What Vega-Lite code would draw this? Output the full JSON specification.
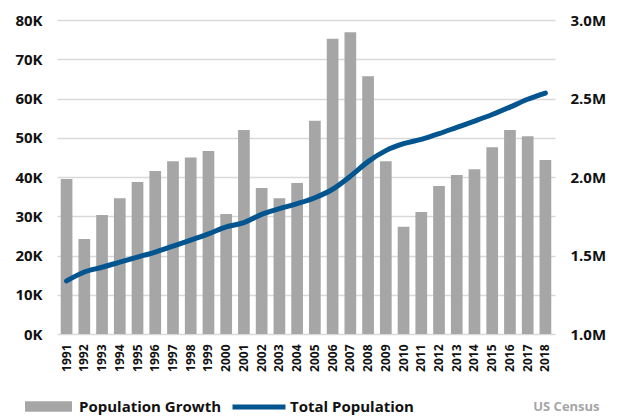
{
  "$schema": "https://vega.github.io/schema/vega-lite/v6.json",
  "width": 498,
  "height": 314,
  "autosize": {"type": "none"},
  "padding": {"top": 20, "left": 57, "right": 66, "bottom": 82},
  "background": "white",
  "config": {
    "font": "Open Sans",
    "view": {"stroke": null},
    "axis": {"labelFont": "Open Sans", "labelFontWeight": "bold", "labelColor": "#111111", "labelFontSize": 15, "ticks": false, "domain": false, "title": null, "labelOverlap": false},
    "legend": {"labelFont": "Open Sans", "labelFontWeight": "bold", "labelColor": "#111111", "labelFontSize": 15, "padding": 0}
  },
  "title": {"text": "US Census", "orient": "bottom", "anchor": "end", "color": "#a6a6a6", "fontSize": 13, "fontWeight": "bold", "offset": -16, "dx": -6, "font": "Open Sans"},
  "data": {"values": [
    {"year": "1991", "growth": 39500, "total": 1338000},
    {"year": "1992", "growth": 24200, "total": 1395000},
    {"year": "1993", "growth": 30300, "total": 1425000},
    {"year": "1994", "growth": 34600, "total": 1458000},
    {"year": "1995", "growth": 38700, "total": 1490000},
    {"year": "1996", "growth": 41500, "total": 1522000},
    {"year": "1997", "growth": 44000, "total": 1560000},
    {"year": "1998", "growth": 45000, "total": 1598000},
    {"year": "1999", "growth": 46600, "total": 1638000},
    {"year": "2000", "growth": 30600, "total": 1682000},
    {"year": "2001", "growth": 52000, "total": 1710000},
    {"year": "2002", "growth": 37200, "total": 1762000},
    {"year": "2003", "growth": 34600, "total": 1798000},
    {"year": "2004", "growth": 38500, "total": 1830000},
    {"year": "2005", "growth": 54300, "total": 1868000},
    {"year": "2006", "growth": 75200, "total": 1922000},
    {"year": "2007", "growth": 76900, "total": 2005000},
    {"year": "2008", "growth": 65700, "total": 2098000},
    {"year": "2009", "growth": 44000, "total": 2168000},
    {"year": "2010", "growth": 27300, "total": 2212000},
    {"year": "2011", "growth": 31100, "total": 2240000},
    {"year": "2012", "growth": 37700, "total": 2276000},
    {"year": "2013", "growth": 40500, "total": 2316000},
    {"year": "2014", "growth": 42000, "total": 2356000},
    {"year": "2015", "growth": 47600, "total": 2398000},
    {"year": "2016", "growth": 52000, "total": 2445000},
    {"year": "2017", "growth": 50400, "total": 2495000},
    {"year": "2018", "growth": 44300, "total": 2535000}
  ]},
  "encoding": {
    "x": {"field": "year", "type": "ordinal", "scale": {"paddingInner": 0.34, "paddingOuter": 0.21},
      "axis": {"labelAngle": -90, "labelFontSize": 12, "labelPadding": 10, "labelBaseline": "middle", "labelAlign": "right", "grid": false}}
  },
  "layer": [
    {
      "mark": {"type": "bar", "color": "#a6a6a6"},
      "encoding": {
        "y": {"field": "growth", "type": "quantitative", "scale": {"domain": [0, 80000]},
          "axis": {"orient": "left", "values": [0,10000,20000,30000,40000,50000,60000,70000,80000], "labelExpr": "(datum.value/1000) + 'K'", "grid": true, "gridColor": "#d9d9d9", "gridWidth": 1.5, "labelPadding": 15}},
        "fill": {"datum": "Population Growth", "type": "nominal", "scale": {"domain": ["Population Growth"], "range": ["#a6a6a6"]},
          "legend": {"orient": "none", "legendX": -32, "legendY": 363, "title": null, "symbolType": "M-1,-0.22L1,-0.22L1,0.22L-1,0.22Z", "symbolSize": 2209, "symbolStrokeWidth": 0, "labelOffset": 7}}
      }
    },
    {
      "mark": {"type": "line", "color": "#03558f", "strokeWidth": 5, "interpolate": "monotone", "strokeCap": "round"},
      "encoding": {
        "y": {"field": "total", "type": "quantitative", "scale": {"domain": [1000000, 3000000], "zero": false},
          "axis": {"orient": "right", "values": [1000000,1500000,2000000,2500000,3000000], "labelExpr": "format(datum.value/1000000, '.1f') + 'M'", "grid": false, "labelPadding": 15}},
        "stroke": {"datum": "Total Population", "type": "nominal", "scale": {"domain": ["Total Population"], "range": ["#03558f"]},
          "legend": {"orient": "none", "legendX": 173, "legendY": 358, "title": null, "symbolType": "stroke", "symbolSize": 2809, "symbolStrokeWidth": 5, "labelOffset": 2}}
      }
    }
  ],
  "resolve": {"scale": {"y": "independent", "fill": "independent", "stroke": "independent"}}
}
